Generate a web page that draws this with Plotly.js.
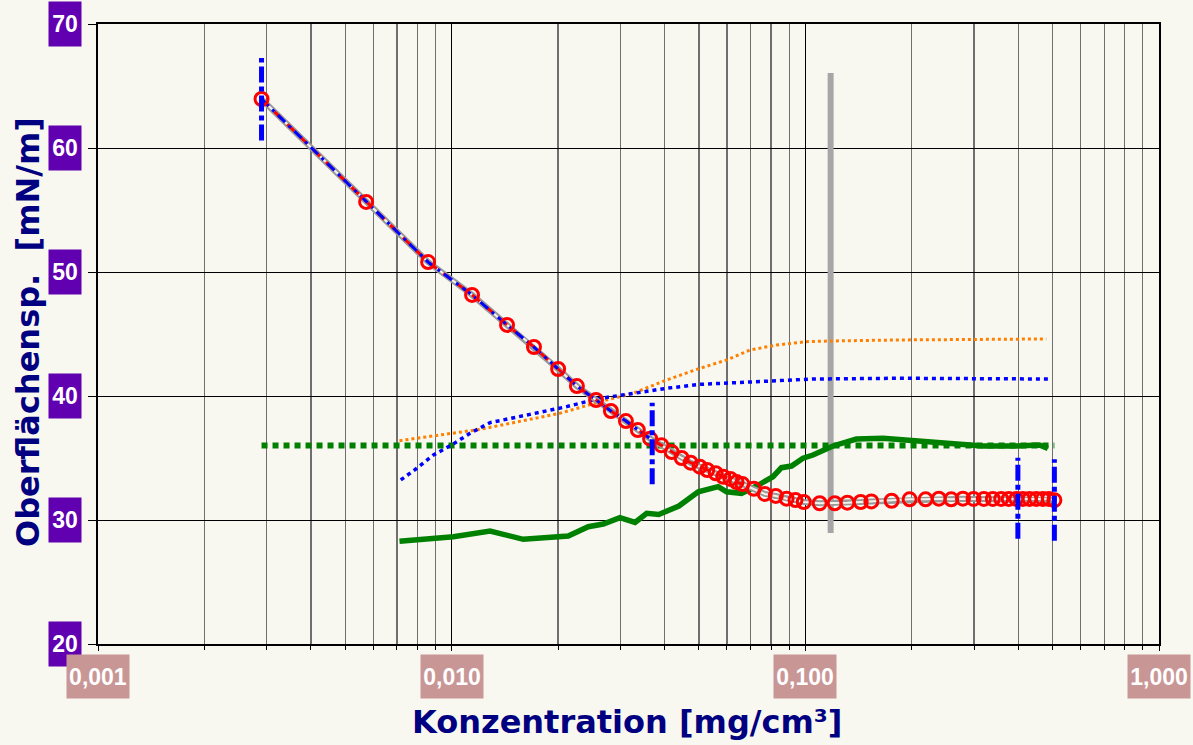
<!DOCTYPE html>
<html>
<head>
<meta charset="utf-8">
<script src="https://cdn.plot.ly/plotly-3.0.1.min.js"></script>
<style>
  html, body { margin: 0; padding: 0; background: #f9f8f0; }
  #chart { width: 1193px; height: 745px; }
</style>
</head>
<body>
<div id="chart"></div>
<script>
// ---------- data ----------
const concentration = [0.0029, 0.00573, 0.00858, 0.01142, 0.01434, 0.01709, 0.0200, 0.0226, 0.0256, 0.0282,
  0.0311, 0.0336, 0.0364, 0.0392, 0.0419, 0.0447, 0.0474, 0.0503, 0.0528, 0.0558,
  0.0586, 0.0614, 0.0639, 0.0664, 0.0715, 0.0768, 0.0825, 0.0885, 0.0938, 0.099,
  0.1098, 0.1211, 0.1315, 0.1434, 0.1537, 0.1754, 0.1972, 0.2188, 0.2385, 0.2586,
  0.279, 0.299, 0.3197, 0.339, 0.358, 0.376, 0.395, 0.412, 0.4305, 0.4497,
  0.4694, 0.488, 0.506];
const surfaceTension = [63.95, 55.65, 50.8, 48.15, 45.73, 43.95, 42.18, 40.8, 39.68, 38.79,
  37.98, 37.26, 36.56, 36.02, 35.48, 35.0, 34.62, 34.3, 34.03, 33.77,
  33.49, 33.31, 33.06, 32.9, 32.52, 32.1, 31.94, 31.72, 31.61, 31.45,
  31.35, 31.35, 31.4, 31.45, 31.5, 31.55, 31.67, 31.67, 31.72, 31.67,
  31.72, 31.7, 31.7, 31.7, 31.7, 31.7, 31.7, 31.7, 31.7, 31.7,
  31.7, 31.7, 31.6];
const linearFitCount = 13;   // points covered by the blue dash-dot fit
const redLineCount = 24;     // points covered by the red dashed line

const orangeConc = [0.00712, 0.01203, 0.0202, 0.0263, 0.0326, 0.0405, 0.0503, 0.0599, 0.0697, 0.0829, 0.1007, 0.1197, 0.1848, 0.354, 0.48];
const orangeVal  = [36.4, 37.31, 38.6, 39.54, 40.22, 41.29, 42.23, 42.9, 43.71, 44.11, 44.38, 44.44, 44.52, 44.6, 44.6];

const blueDotConc = [0.00718, 0.00797, 0.00888, 0.0100, 0.01127, 0.01284, 0.01665, 0.02114, 0.0257, 0.0326, 0.0405, 0.0503, 0.0653, 0.0829, 0.1051, 0.1848, 0.485];
const blueDotVal  = [33.23, 34.17, 35.24, 36.05, 36.99, 37.85, 38.52, 39.14, 39.76, 40.19, 40.62, 40.94, 41.07, 41.23, 41.37, 41.43, 41.37];

const greenConc = [0.00712, 0.01011, 0.01284, 0.01594, 0.02136, 0.02433, 0.02683, 0.0299, 0.033, 0.0356,
  0.0385, 0.0414, 0.0439, 0.0498, 0.0567, 0.0599, 0.066, 0.0728, 0.081, 0.0856,
  0.0914, 0.0985, 0.1051, 0.1197, 0.1394, 0.1658, 0.206, 0.2558, 0.3177, 0.395,
  0.459, 0.485];
const greenVal = [28.28, 28.65, 29.11, 28.44, 28.71, 29.46, 29.68, 30.19, 29.8, 30.54,
  30.44, 30.81, 31.13, 32.28, 32.69, 32.28, 32.15, 32.74, 33.49, 34.22,
  34.35, 34.98, 35.24, 35.97, 36.53, 36.59, 36.4, 36.13, 35.97, 35.97,
  36.05, 35.78];

const refLevelConc = [0.0029, 0.506];
const refLevel = 36.0;

const cmcConc = 0.1179;
const cmcRange = [28.95, 66.05];

const markerConc = [0.0029, 0.0369, 0.399, 0.506];
const markerLow  = [60.6, 32.88, 28.49, 28.33];
const markerHigh = [67.26, 39.46, 35.02, 34.9];

const yTickVals = [20, 30, 40, 50, 60, 70];
const yTickText = ['20', '30', '40', '50', '60', '70'];
const xTickVals = [0.001, 0.01, 0.1, 1];
const xTickText = ['0,001', '0,010', '0,100', '1,000'];

const xTitle = 'Konzentration [mg/cm³]';
const yTitle = 'Oberflächensp.  [mN/m]';

// ---------- layout constants ----------
const W = 1193, H = 745;
const M = { l: 98, r: 34, t: 24, b: 101 };
const PW = W - M.l - M.r, PH = H - M.t - M.b;
const px2paperX = px => (px - M.l) / PW;
const px2paperY = py => (H - M.b - py) / PH;

// ---------- traces ----------
const vLinesX = [], vLinesY = [];
markerConc.forEach((c, i) => {
  vLinesX.push(c, c, null);
  vLinesY.push(markerLow[i], markerHigh[i], null);
});

const traces = [
  { x: [cmcConc, cmcConc], y: cmcRange, mode: 'lines', line: { color: '#a6a6a6', width: 6 } },
  { x: refLevelConc, y: [refLevel, refLevel], mode: 'lines', line: { color: '#008000', width: 6, dash: '6px,5px' } },
  { x: orangeConc, y: orangeVal, mode: 'lines', line: { color: '#ff8000', width: 3, dash: '3px,3px' } },
  { x: blueDotConc, y: blueDotVal, mode: 'lines', line: { color: '#0000ff', width: 3.5, dash: '4px,4px' } },
  { x: greenConc, y: greenVal, mode: 'lines', line: { color: '#008000', width: 5.5 } },
  { x: concentration, y: surfaceTension, mode: 'lines', line: { color: '#999999', width: 6 } },
  { x: concentration, y: surfaceTension, mode: 'lines', line: { color: '#f4f3ec', width: 2 } },
  { x: concentration.slice(0, redLineCount), y: surfaceTension.slice(0, redLineCount), mode: 'lines',
    line: { color: '#ff0000', width: 3, dash: '10px,8px' } },
  { x: concentration.slice(0, linearFitCount), y: surfaceTension.slice(0, linearFitCount), mode: 'lines',
    line: { color: '#0000ff', width: 3, dash: '10px,5px,3px,5px' } },
  { x: concentration, y: surfaceTension, mode: 'markers',
    marker: { symbol: 'circle-open', size: 13, color: '#ff0000', line: { color: '#ff0000', width: 3 } } },
  { x: vLinesX, y: vLinesY, mode: 'lines', line: { color: '#0000ff', width: 5, dash: '16px,4px,5px,4px' } }
];

// ---------- annotations: tick labels & titles ----------
const annotations = [];
const tickFont = { family: 'Liberation Sans, Arial, sans-serif', size: 23, color: '#ffffff', weight: 'bold' };
yTickVals.forEach((v, i) => {
  annotations.push({ xref: 'paper', yref: 'y', x: px2paperX(65), y: v, xanchor: 'center', yanchor: 'middle',
    text: '<b>' + yTickText[i] + '</b>', showarrow: false, bgcolor: '#6000b0', width: 32, height: 44, borderpad: 0,
    font: tickFont });
});
xTickVals.forEach((v, i) => {
  annotations.push({ xref: 'x', yref: 'paper', x: Math.log10(v), y: px2paperY(676), xanchor: 'center', yanchor: 'middle',
    text: '<b>' + xTickText[i] + '</b>', showarrow: false, bgcolor: '#c99696', width: 62, height: 43, borderpad: 0,
    font: tickFont });
});
const titleFont = { family: 'DejaVu Sans, Verdana, sans-serif', size: 32, color: '#000080' };
annotations.push({ xref: 'paper', yref: 'paper', x: px2paperX(627), y: px2paperY(722), xanchor: 'center', yanchor: 'middle',
  text: '<b>' + xTitle + '</b>', showarrow: false, font: titleFont });
annotations.push({ xref: 'paper', yref: 'paper', x: px2paperX(28), y: px2paperY(332), xanchor: 'center', yanchor: 'middle',
  text: '<b>' + yTitle + '</b>', showarrow: false, textangle: -90, font: titleFont });

const layout = {
  width: W, height: H,
  margin: M,
  paper_bgcolor: '#f9f8f0', plot_bgcolor: '#f9f8f0',
  showlegend: false,
  hovermode: false,
  xaxis: {
    type: 'log', range: [-3, 0], dtick: 1, tickvals: xTickVals,
    showticklabels: false, ticks: 'outside', ticklen: 5, tickcolor: '#000',
    showgrid: true, gridcolor: '#000000', gridwidth: 1,
    minor: { dtick: 'D1', showgrid: true, gridcolor: '#6f6f6f', gridwidth: 1.3, ticks: 'outside', ticklen: 4, tickcolor: '#000' },
    showline: true, linecolor: '#000', linewidth: 2, mirror: true, zeroline: false
  },
  yaxis: {
    range: [20, 70], tickvals: yTickVals,
    showticklabels: false, ticks: 'outside', ticklen: 8, tickcolor: '#000',
    showgrid: true, gridcolor: '#000000', gridwidth: 1,
    showline: true, linecolor: '#000', linewidth: 2, mirror: true, zeroline: false
  },
  annotations: annotations
};

Plotly.newPlot('chart', traces, layout, { displayModeBar: false, staticPlot: true });
</script>
</body>
</html>
